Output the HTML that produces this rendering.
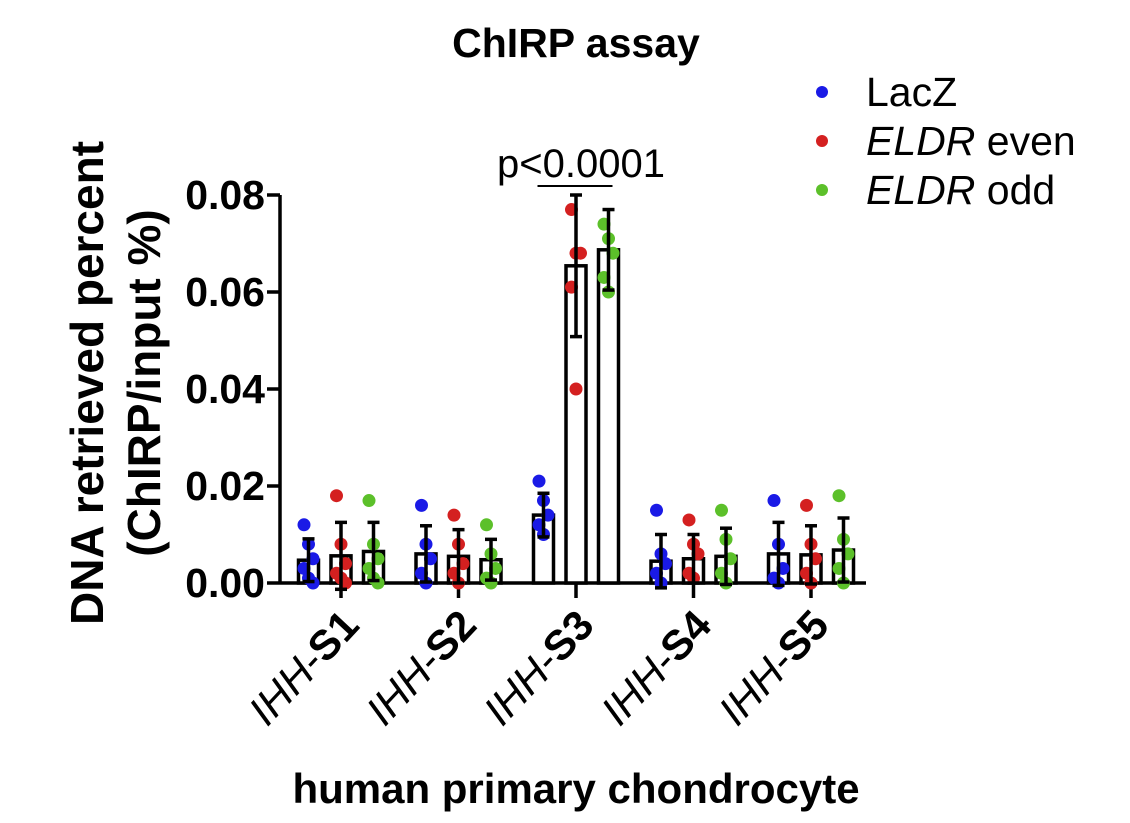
<!DOCTYPE html>
<html><head><meta charset="utf-8"><style>body{margin:0;background:#fff}svg{display:block;font-family:"Liberation Sans",Arial,sans-serif}</style></head>
<body>
<svg id="c" width="1130" height="823"></svg>
<script>
const categories=["S1","S2","S3","S4","S5"];
const seriesNames=["LacZ","ELDR even","ELDR odd"];
const colors=["#1a1ae6","#d42020","#5cc02a"];
const means=[[0.0047,0.0056,0.0065],[0.006,0.0055,0.0048],[0.014,0.0654,0.0687],[0.0045,0.005,0.0055],[0.006,0.0058,0.0068]];
const sds=[[0.0044,0.0069,0.006],[0.0058,0.0055,0.0042],[0.0045,0.0146,0.0083],[0.0055,0.005,0.0058],[0.0065,0.006,0.0066]];
const points=[[[0.012,0.008,0.005,0.003,0.001,0],[0.018,0.008,0.004,0.002,0.001,0],[0.017,0.008,0.005,0.003,0.001,0]],
[[0.016,0.008,0.005,0.002,0],[0.014,0.008,0.004,0.002,0],[0.012,0.006,0.003,0.001,0]],
[[0.021,0.017,0.014,0.012,0.010],[0.077,0.068,0.068,0.061,0.040],[0.074,0.071,0.068,0.063,0.060]],
[[0.015,0.006,0.004,0.002,0],[0.013,0.008,0.006,0.002,0.001],[0.015,0.009,0.005,0.002,0]],
[[0.017,0.008,0.003,0.001,0],[0.016,0.008,0.005,0.002,0],[0.018,0.009,0.006,0.003,0]]];
const yTicks=[0,0.02,0.04,0.06,0.08];
const yTickLabels=["0.00","0.02","0.04","0.06","0.08"];
const NS="http://www.w3.org/2000/svg",svg=document.getElementById('c');
function el(t,a,p){const e=document.createElementNS(NS,t);for(const k in a)e.setAttribute(k,a[k]);(p||svg).appendChild(e);return e;}
const y=v=>583-v*4850;
const gx=i=>341+i*117.5;
const bx=(i,j)=>gx(i)+(j-1)*32.5;
const sw=3.5;
let e=el('line',{x1:280,y1:y(0.08),x2:280,y2:y(0)+1.5,stroke:'#000','stroke-width':sw});

e=el('line',{x1:280,y1:y(0),x2:866,y2:y(0),stroke:'#000','stroke-width':sw});

yTicks.forEach((v,k)=>{
 el('line',{x1:267,y1:y(v),x2:280,y2:y(v),stroke:'#000','stroke-width':sw});
 const t=el('text',{x:265,y:y(v)+14,'text-anchor':'end','font-size':41,'font-weight':'bold'});t.textContent=yTickLabels[k];
 
});
categories.forEach((c,i)=>{
 el('line',{x1:gx(i),y1:y(0),x2:gx(i),y2:y(0)+15,stroke:'#000','stroke-width':sw});
 const t=el('text',{transform:`translate(${gx(i)+20},${y(0)+44}) rotate(-47)`,'text-anchor':'end','font-size':42});
 
 const a=el('tspan',{'font-style':'italic'},t);a.textContent='IHH';
 const b=el('tspan',{},t);b.textContent='-';
 const d=el('tspan',{'font-weight':'bold'},t);d.textContent=c;
 for(let j=0;j<3;j++){
  const x=bx(i,j),m=means[i][j],s=sds[i][j];
  const r=el('rect',{x:x-10,y:y(m),width:20,height:y(0)-y(m),fill:'#fff',stroke:'#000','stroke-width':sw});
  
  points[i][j].forEach((v,k)=>{
   const p=el('circle',{cx:x+((k%3)-1)*4.5,cy:y(v),r:6.5,fill:colors[j]});
   
  });
  const eb=el('g',{stroke:'#000','stroke-width':sw});
  
  el('line',{x1:x,y1:y(m-s),x2:x,y2:y(m+s)},eb);
  el('line',{x1:x-6,y1:y(m-s),x2:x+6,y2:y(m-s)},eb);
  el('line',{x1:x-6,y1:y(m+s),x2:x+6,y2:y(m+s)},eb);
 }
});
e=el('line',{x1:bx(2,0)-6,y1:186,x2:bx(2,2)+4,y2:186,stroke:'#000','stroke-width':2});

e=el('text',{x:gx(2)+5,y:177,'text-anchor':'middle','font-size':40});e.textContent='p<0.0001';

e=el('text',{x:576,y:57,'text-anchor':'middle','font-size':41,'font-weight':'bold'});e.textContent='ChIRP assay';

e=el('text',{x:576,y:803,'text-anchor':'middle','font-size':42,'font-weight':'bold'});e.textContent='human primary chondrocyte';

e=el('text',{transform:'translate(103,383) rotate(-90)','text-anchor':'middle','font-size':46,'font-weight':'bold'});e.textContent='DNA retrieved percent';

e=el('text',{transform:'translate(160,383) rotate(-90)','text-anchor':'middle','font-size':46,'font-weight':'bold'});e.textContent='(ChIRP/input %)';

seriesNames.forEach((n,j)=>{
 const g=el('g',{});
 const yy=92+j*49;
 el('circle',{cx:822,cy:yy,r:6,fill:colors[j]},g);
 const t=el('text',{x:866,y:yy+14,'font-size':41},g);
 if(j===0)t.textContent=n;else{const a=el('tspan',{'font-style':'italic'},t);a.textContent='ELDR';const b=el('tspan',{},t);b.textContent=n.slice(4);}
});
</script>
</body></html>
